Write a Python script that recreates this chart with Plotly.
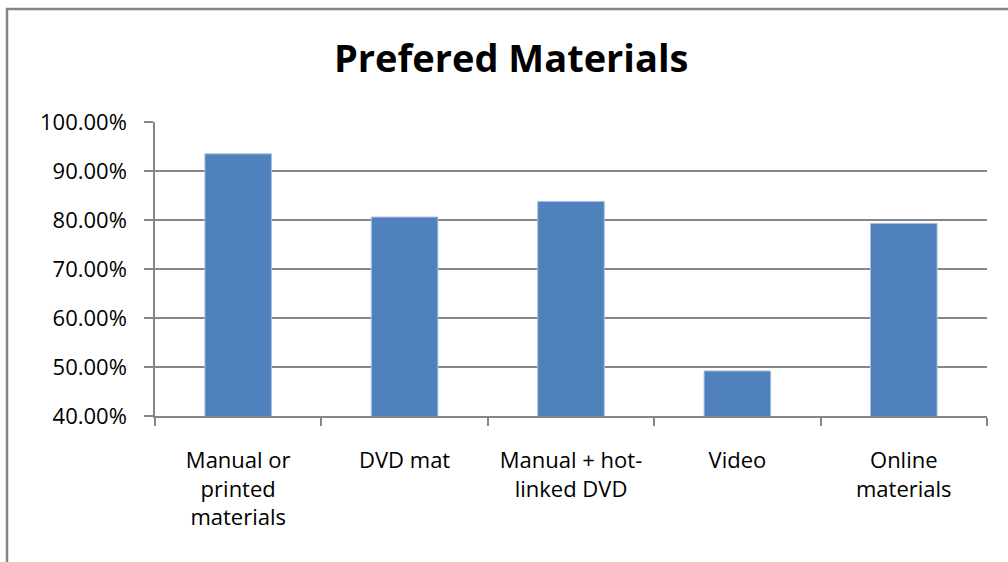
import plotly.graph_objects as go

categories = ["Manual or<br>printed<br>materials", "DVD mat", "Manual + hot-<br>linked DVD", "Video", "Online<br>materials"]
values = [0.935, 0.806, 0.838, 0.492, 0.793]
title_text = "Prefered Materials"

FONT = "Open Sans"
GRAY = "#868686"

fig = go.Figure(go.Bar(
    x=categories, y=values,
    marker=dict(color="#4F81BD", line=dict(color="#A9C0DE", width=1)),
))

fig.update_layout(
    width=1008, height=562,
    margin=dict(l=155, r=21, t=122, b=146),
    paper_bgcolor="white", plot_bgcolor="white",
    bargap=0.6, showlegend=False,
    font=dict(family=FONT, color="black", size=22),
)

fig.update_yaxes(
    range=[0.4, 1.0], dtick=0.1, tick0=0.4, tickformat=".2%",
    showgrid=True, gridcolor=GRAY, gridwidth=1.5,
    showline=True, linecolor=GRAY, linewidth=1.5,
    ticks="outside", ticklen=9, tickcolor=GRAY, tickwidth=1.5,
    ticklabelstandoff=13, zeroline=False,
    tickfont=dict(family=FONT, size=22, color="black"),
)
fig.update_xaxes(
    showline=True, linecolor=GRAY, linewidth=1.5,
    ticks="outside", tickson="boundaries", ticklen=8, tickcolor=GRAY, tickwidth=1.5,
    ticklabelstandoff=24, showgrid=False,
    tickfont=dict(family=FONT, size=22, color="black"),
)

# chart border
fig.add_shape(type="rect", xref="paper", yref="paper",
              x0=(7 - 155) / 832, x1=(1012 - 155) / 832,
              y0=(416 - 566) / 294, y1=(416 - 9) / 294,
              line=dict(color=GRAY, width=2.5), layer="below")

fig.add_annotation(text="<b>" + title_text + "</b>", xref="paper", yref="paper",
                   x=(511 - 155) / 832, y=(416 - 57) / 294,
                   xanchor="center", yanchor="middle", showarrow=False,
                   font=dict(family=FONT, size=38, color="black"))

fig.write_html("out.html")
